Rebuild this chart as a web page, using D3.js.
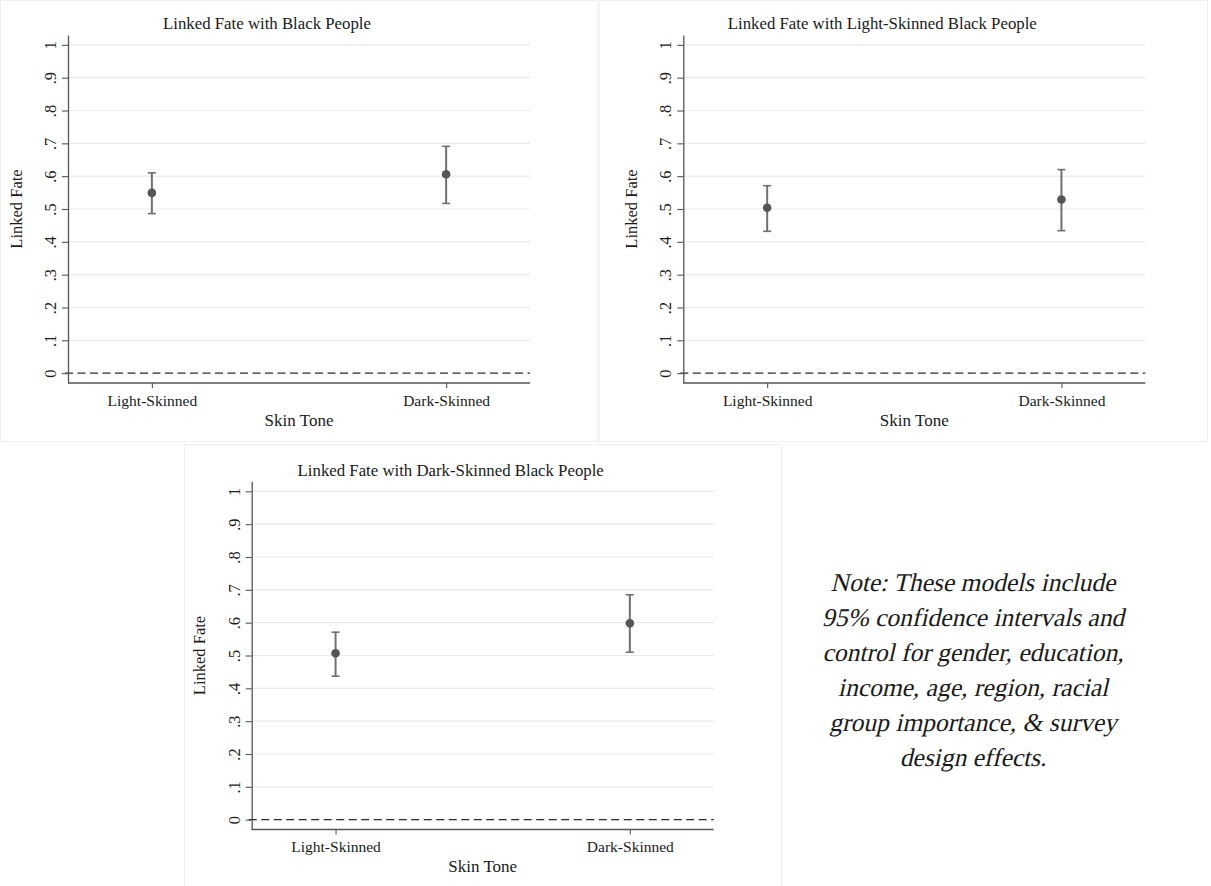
<!DOCTYPE html>
<html>
<head>
<meta charset="utf-8">
<script src="https://cdn.jsdelivr.net/npm/d3@7"></script>
<style>
  html, body { margin: 0; padding: 0; background: #ffffff; }
  svg { display: block; }
  text { font-family: "Liberation Serif", "Times New Roman", Times, serif; fill: #1a1a1a; }
</style>
</head>
<body>
<svg id="chart" width="1211" height="886"></svg>
<script>
// ---- data ----
const categories = ["Light-Skinned", "Dark-Skinned"];
const panelTitles = [
  "Linked Fate with Black People",
  "Linked Fate with Light-Skinned Black People",
  "Linked Fate with Dark-Skinned Black People"
];
// point estimates and 95% confidence bounds, one entry per category
const blackEst = [0.549, 0.606];
const blackLo  = [0.486, 0.517];
const blackHi  = [0.610, 0.691];

const lightEst = [0.504, 0.529];
const lightLo  = [0.432, 0.434];
const lightHi  = [0.571, 0.620];

const darkEst  = [0.507, 0.598];
const darkLo   = [0.437, 0.510];
const darkHi   = [0.571, 0.685];

const yTickValues = [0, 0.1, 0.2, 0.3, 0.4, 0.5, 0.6, 0.7, 0.8, 0.9, 1];
const yTickLabels = ["0", ".1", ".2", ".3", ".4", ".5", ".6", ".7", ".8", ".9", "1"];
const yTitle = "Linked Fate";
const xTitle = "Skin Tone";
const noteLines = [
  "Note: These models include",
  "95% confidence intervals and",
  "control for gender, education,",
  "income, age, region, racial",
  "group importance, & survey",
  "design effects."
];

// ---- layout ----
const svg = d3.select("#chart");
const plotLeft = 68, plotRight = 530, plotTop = 35, plotBottom = 383;

const panels = [
  { ox: 0,     oy: 0,     title: panelTitles[0], est: blackEst, lo: blackLo, hi: blackHi },
  { ox: 615.3, oy: 0,     title: panelTitles[1], est: lightEst, lo: lightLo, hi: lightHi },
  { ox: 183.7, oy: 446.5, title: panelTitles[2], est: darkEst,  lo: darkLo,  hi: darkHi  }
];

// faint frames around each graph
const borders = [
  { x: 0, y: 0, w: 597, h: 441 },
  { x: 599, y: 0, w: 608, h: 441 },
  { x: 184, y: 444, w: 597, h: 442 }
];
svg.selectAll("rect.frame").data(borders).enter().append("rect")
  .attr("class", "frame")
  .attr("x", d => d.x + 0.5).attr("y", d => d.y + 0.5)
  .attr("width", d => d.w).attr("height", d => d.h)
  .attr("fill", "none").attr("stroke", "#efefef").attr("stroke-width", 1);

panels.forEach(p => {
  const g = svg.append("g").attr("transform", `translate(${p.ox},${p.oy})`);

  const y = d3.scaleLinear().domain([-0.03, 1.03]).range([plotBottom, plotTop]);
  const x = d3.scalePoint().domain(categories).range([plotLeft, plotRight]).padding(0.285);

  // horizontal gridlines
  g.append("g").selectAll("line").data(yTickValues.filter(v => v > 0)).enter().append("line")
    .attr("x1", plotLeft).attr("x2", plotRight)
    .attr("y1", d => y(d)).attr("y2", d => y(d))
    .attr("stroke", "#e9e9e9").attr("stroke-width", 1.2);

  // reference line at zero
  g.append("line")
    .attr("x1", plotLeft - 3).attr("x2", plotRight)
    .attr("y1", y(0)).attr("y2", y(0))
    .attr("stroke", "#2a2a2a").attr("stroke-width", 1.4)
    .attr("stroke-dasharray", "8,4.5");

  // y axis
  const yAxis = d3.axisLeft(y).tickValues(yTickValues).tickSize(6).tickSizeOuter(0)
    .tickFormat((d, i) => yTickLabels[i]);
  const ya = g.append("g").attr("transform", `translate(${plotLeft},0)`).call(yAxis);
  ya.select(".domain").attr("stroke", "#555").attr("stroke-width", 1.3);
  ya.selectAll(".tick line").attr("stroke", "#555").attr("stroke-width", 1.1);
  ya.selectAll(".tick text")
    .attr("x", null).attr("dy", null)
    .attr("transform", "translate(-12,0) rotate(-90)")
    .attr("text-anchor", "middle")
    .style("font-size", "16.5px").style("font-family", '"Liberation Serif", serif').attr("fill", "#1a1a1a");

  // x axis
  const xAxis = d3.axisBottom(x).tickSize(5).tickSizeOuter(0);
  const xa = g.append("g").attr("transform", `translate(0,${plotBottom})`).call(xAxis);
  xa.select(".domain").attr("stroke", "#555").attr("stroke-width", 1.3)
    .attr("d", `M${plotLeft},0H${plotRight}`);
  xa.selectAll(".tick line").attr("stroke", "#555").attr("stroke-width", 1.1);
  xa.selectAll(".tick text")
    .attr("y", 18).attr("dy", "0.32em")
    .style("font-size", "15.5px").style("font-family", '"Liberation Serif", serif').attr("fill", "#1a1a1a");

  // confidence intervals and point estimates
  const ci = g.append("g").selectAll("g").data(categories).enter().append("g");
  ci.append("line")
    .attr("x1", d => x(d)).attr("x2", d => x(d))
    .attr("y1", (d, i) => y(p.lo[i])).attr("y2", (d, i) => y(p.hi[i]))
    .attr("stroke", "#707070").attr("stroke-width", 2);
  ci.append("line")
    .attr("x1", d => x(d) - 4).attr("x2", d => x(d) + 4)
    .attr("y1", (d, i) => y(p.lo[i])).attr("y2", (d, i) => y(p.lo[i]))
    .attr("stroke", "#707070").attr("stroke-width", 1.6);
  ci.append("line")
    .attr("x1", d => x(d) - 4).attr("x2", d => x(d) + 4)
    .attr("y1", (d, i) => y(p.hi[i])).attr("y2", (d, i) => y(p.hi[i]))
    .attr("stroke", "#707070").attr("stroke-width", 1.6);
  ci.append("circle")
    .attr("cx", d => x(d)).attr("cy", (d, i) => y(p.est[i]))
    .attr("r", 4.3).attr("fill", "#555555");

  // titles
  g.append("text")
    .attr("x", plotLeft + 199).attr("y", 29.3)
    .attr("text-anchor", "middle")
    .style("font-size", "16.8px")
    .text(p.title);
  g.append("text")
    .attr("transform", `translate(${plotLeft - 52},${(plotTop + plotBottom) / 2}) rotate(-90)`)
    .attr("text-anchor", "middle").attr("dy", "0.35em")
    .style("font-size", "16.5px")
    .text(yTitle);
  g.append("text")
    .attr("x", (plotLeft + plotRight) / 2).attr("y", 425.5)
    .attr("text-anchor", "middle")
    .style("font-size", "17px")
    .text(xTitle);
});

// explanatory note, slanted serif
svg.append("g").selectAll("text").data(noteLines).enter().append("text")
  .attr("transform", (d, i) => `translate(973,${590.7 + i * 35}) skewX(-13)`)
  .attr("text-anchor", "middle")
  .style("font-family", '"Liberation Serif", serif')
  .style("font-style", "normal")
  .style("font-size", "25.5px")
  .style("fill", "#1a1a1a")
  .text(d => d);
</script>
</body>
</html>
